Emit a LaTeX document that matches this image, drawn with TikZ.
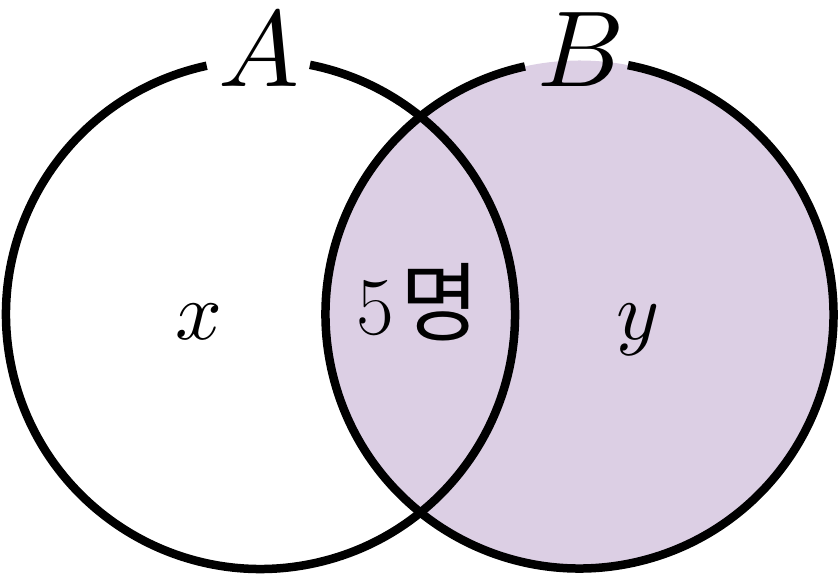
\documentclass[tikz,border=0pt]{standalone}
\usepackage{fontspec}
\DeclareFontFamily{OML}{cmm}{\skewchar\font'177}
\DeclareFontShape{OML}{cmm}{m}{it}{<->cmmi10}{}
\DeclareFontFamily{OMS}{cmsy}{\skewchar\font'60}
\DeclareFontShape{OMS}{cmsy}{m}{n}{<->cmsy10}{}
\newfontfamily\kr{Noto Sans CJK KR}
\definecolor{purp}{RGB}{220,207,228}
\tikzset{
  ring/.style={line width=8.5pt, black},
  biglabel/.style={anchor=base, inner sep=0pt, font=\fontsize{108}{108}\selectfont},
  inlabel/.style={anchor=base, inner sep=0pt, font=\fontsize{82}{82}\selectfont}
}
\begin{document}
\begin{tikzpicture}[x=1pt,y=1pt]
\useasboundingbox (0,0) rectangle (839,575);
\coordinate (Ac) at (260.5,260.5);
\coordinate (Bc) at (579.5,260.5);
\fill[purp] (Bc) circle[radius=254];
\draw[ring] ([shift={(102.2:254.5)}]Ac) arc[start angle=102.2, end angle=438.8, radius=254.5];
\draw[ring] ([shift={(102.4:254)}]Bc) arc[start angle=102.4, end angle=439, radius=254];
\node[biglabel] (la) at (259,488) {$A$};
\node[biglabel] (lb) at (581,488) {$B$};
\node[inlabel] (lx) at (199,235) {$x$};
\node[inlabel] (ly) at (638,235) {$y$};
\node[inlabel] (l5) at (418,240) {5\kern6pt{\kr\fontsize{86}{86}\selectfont 명}};
\end{tikzpicture}
\end{document}
